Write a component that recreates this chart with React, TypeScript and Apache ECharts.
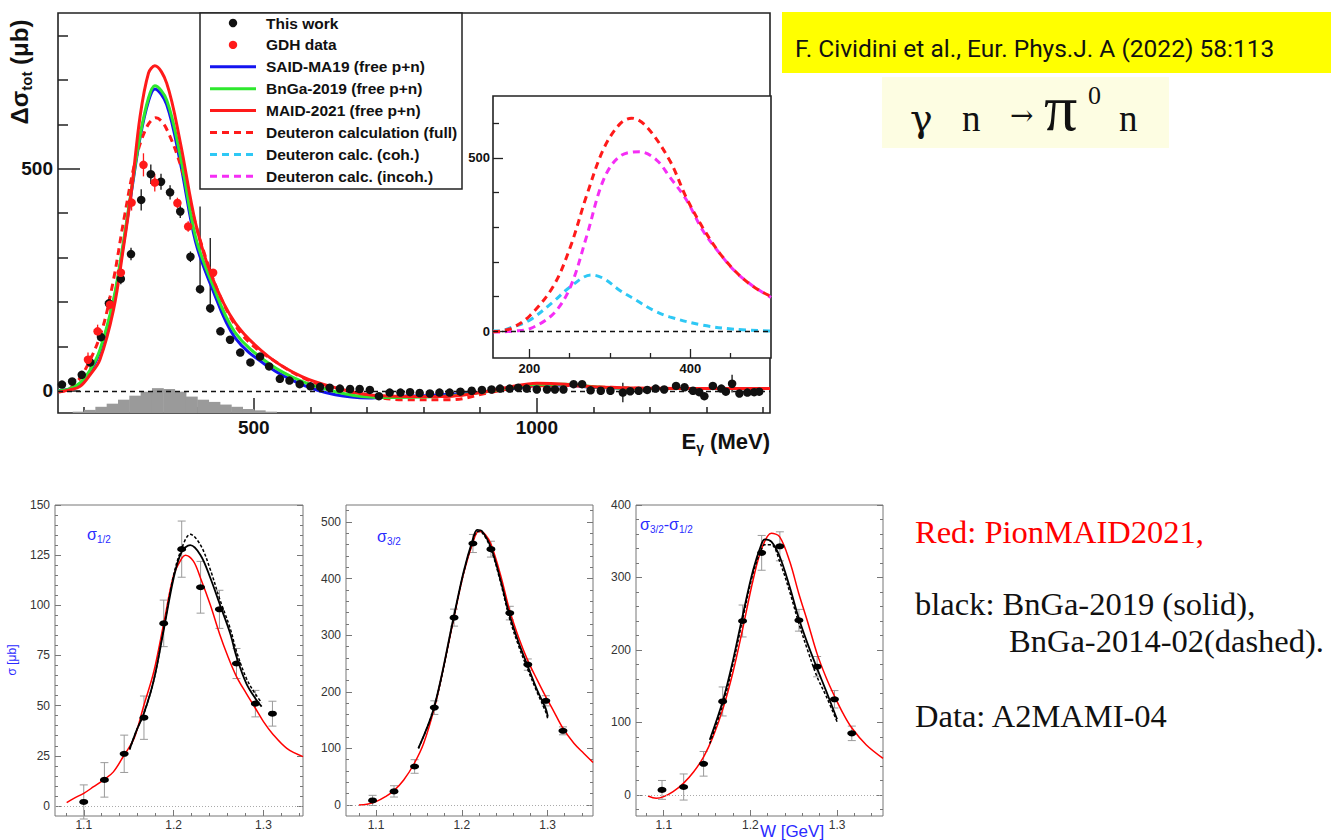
import { useEffect, useRef } from 'react';
import * as echarts from 'echarts';

/* ---------------- upper panel: Δσ_tot(γn → π0 n) ---------------- */
// free-nucleon model curves (p+n)
const freeE = [155, 175, 193, 210, 228, 252, 269, 284, 299, 314, 325, 346, 370, 397, 426, 467, 526, 585, 644, 703, 750, 800, 850, 900, 950, 1000, 1050, 1100, 1150, 1200, 1300, 1412];
const said19 = [0, 4, 16, 42, 88, 200, 325, 450, 570, 653, 680, 645, 515, 336, 232, 119, 54, 14, -9, -16, -13, -11, -8, -3, 4, 12, 13, 8, 6, 5, 5, 5];
const bnga19 = [0, 5, 18, 45, 92, 205, 330, 455, 575, 660, 687, 655, 530, 347, 243, 131, 62, 21, -2, -14, -15, -14, -11, -4, 6, 15, 15, 9, 6, 5, 5, 5];
const maid21 = [-3, 2, 10, 35, 70, 182, 317, 453, 618, 716, 732, 693, 560, 378, 257, 153, 77, 32, 7, -9, -12, -13, -12, -4, 8, 17, 15, 9, 7, 6, 5, 5];

// deuteron calculation, full
const deutE = [155, 165, 180, 201, 230, 251, 271, 292, 312, 327, 345, 374, 395, 415, 436, 456, 477, 500, 526, 585, 644, 703, 762, 850, 912, 960, 1000, 1050, 1100, 1150, 1200, 1300, 1412];
const deutFull = [-2, 0, 10, 45, 130, 243, 390, 525, 597, 615, 592, 494, 385, 300, 226, 172, 130, 100, 76, 30, 3, -12, -20, -20, -5, 6, 11, 12, 9, 7, 5, 5, 5];
// coherent / incoherent parts (inset)
const cohE = [155, 162, 180, 201, 230, 251, 277, 292, 312, 332, 353, 374, 415, 456, 500];
const deutCoh = [0, 0, 12, 32, 85, 128, 162, 152, 118, 90, 61, 41, 17, 5, 0];
const incohE = [155, 162, 180, 201, 230, 251, 271, 292, 312, 337, 358, 374, 395, 415, 436, 456, 477, 500];
const deutIncoh = [-2, -3, 0, 7, 50, 127, 272, 436, 504, 518, 494, 446, 379, 292, 225, 171, 131, 97];

// this work
const workE = [161, 179, 196, 211, 230, 244, 265, 283, 301, 318, 336, 352, 370, 388, 405, 423, 441, 458, 476, 494, 511, 527, 546, 563, 581, 600, 617, 634, 652, 670, 687, 705, 721, 740, 759, 776, 793, 811, 828, 846, 865, 885, 903, 920, 935, 952, 967, 982, 1000, 1018, 1032, 1047, 1065, 1080, 1095, 1113, 1130, 1152, 1165, 1180, 1195, 1210, 1225, 1246, 1261, 1276, 1287, 1296, 1311, 1326, 1334, 1345, 1358, 1372, 1384, 1393];
const workV = [14, 21, 36, 64, 121, 197, 252, 308, 430, 488, 471, 447, 404, 302, 229, 186, 134, 115, 86, 64, 77, 55, 27, 23, 15, 10, 9, 7, 5, 4, 4, 2, -12, -4, -4, -3, -5, -6, -4, -4, -2, 0, 2, 3, 5, 5, 7, 5, 3, 3, 3, 3, 15, 15, 1, 0, 0, -4, -1, 0, 2, 5, 3, 11, 8, 0, -3, -12, 11, 5, -2, 16, -6, -4, -3, -2];
const workErrDn = [6, 6, 7, 15, 10, 14, 12, 14, 24, 22, 18, 16, 15, 12, 10, 10, 5, 5, 4, 4, 4, 4, 3, 3, 3, 3, 3, 3, 3, 3, 3, 3, 3, 3, 3, 3, 3, 3, 3, 3, 3, 3, 3, 3, 3, 3, 3, 3, 3, 3, 3, 3, 3, 3, 3, 3, 3, 22, 3, 3, 3, 3, 3, 3, 3, 3, 3, 3, 3, 3, 3, 20, 3, 3, 3, 3];
const workErrUp = [6, 6, 7, 15, 10, 14, 12, 14, 24, 22, 18, 16, 15, 12, 186, 158, 5, 5, 4, 4, 4, 4, 3, 3, 3, 3, 3, 3, 3, 3, 3, 3, 3, 3, 3, 3, 3, 3, 3, 3, 3, 3, 3, 3, 3, 3, 3, 3, 3, 3, 3, 3, 3, 3, 3, 3, 3, 22, 3, 3, 3, 3, 3, 3, 3, 3, 3, 3, 3, 3, 3, 20, 3, 3, 3, 3];

// GDH data
const gdhE = [207, 224, 246, 265, 284, 305, 325, 365, 384, 428];
const gdhV = [70, 134, 194, 266, 424, 509, 469, 423, 370, 266];
const gdhErr = [16, 15, 15, 12, 18, 26, 20, 12, 12, 8];

// histogram (drawn from the bottom of the frame)
const histStart = [180, 200, 220, 240, 260, 280, 300, 320, 340, 360, 380, 400, 420, 440, 460, 480, 500, 520];
const histWidth = 20;
const histTop = [-47, -43, -36, -29, -20, -11, -2, 6, 4, -2, -13, -20, -25, -31, -36, -41, -44, -47];

// tick labels / tick marks
const mainXLabels = [500, 1000];
const mainXMinor = [200, 300, 400, 600, 700, 800, 900, 1100, 1200, 1300, 1400];
const mainYLabels = [0, 500];
const mainYMinor = [100, 200, 300, 400, 600, 700, 800];
const insetXLabels = [200, 400];
const insetXMinor = [250, 300, 350, 450];
const insetYLabels = [0, 500];
const insetYMinor = [100, 200, 300, 400, 600];

const legendRows = [
  { label: 'This work', kind: 'dot', color: '#111111' },
  { label: 'GDH data', kind: 'dot', color: '#ff1a1a' },
  { label: 'SAID-MA19 (free p+n)', kind: 'line', color: '#1414f0' },
  { label: 'BnGa-2019 (free p+n)', kind: 'line', color: '#2ee82e' },
  { label: 'MAID-2021 (free p+n)', kind: 'line', color: '#ff1a1a' },
  { label: 'Deuteron calculation (full)', kind: 'dash', color: '#ff1a1a' },
  { label: 'Deuteron calc. (coh.)', kind: 'dash', color: '#2ec8f5' },
  { label: 'Deuteron calc. (incoh.)', kind: 'dash', color: '#f52ef5' },
];

/* ---------------- lower panels: helicity cross sections vs W ---------------- */
// σ1/2
const halfW = [1.1, 1.123, 1.145, 1.167, 1.189, 1.209, 1.23, 1.251, 1.27, 1.291, 1.31];
const halfV = [2, 13, 26, 44, 91, 128, 109, 98, 71, 51, 46];
const halfErr = [8.5, 8.6, 9.3, 10.8, 11.6, 14, 12.9, 9.5, 7.5, 6.6, 6.2];
const halfRedW = [1.081, 1.089, 1.1, 1.111, 1.123, 1.133, 1.145, 1.156, 1.167, 1.178, 1.189, 1.2, 1.209, 1.213, 1.222, 1.23, 1.241, 1.251, 1.26, 1.27, 1.281, 1.291, 1.3, 1.31, 1.326, 1.344];
const halfRed = [1.7, 3.8, 6.3, 9.6, 13.3, 17, 25.4, 33.7, 50.3, 67, 91, 115, 123.4, 125, 122, 113.5, 100, 86, 75, 64.5, 56, 48.7, 42, 36, 28.7, 24.6];
const halfBnW = [1.151, 1.159, 1.167, 1.178, 1.189, 1.2, 1.209, 1.2185, 1.23, 1.241, 1.251, 1.263, 1.27, 1.281, 1.291, 1.298];
const halfBn19 = [28.2, 37.9, 46.2, 62.8, 87.7, 113.5, 126.7, 130, 125, 113.5, 101, 86, 74.4, 61, 53.6, 49.5];
const halfBn14 = [28.2, 37.9, 46.2, 62.8, 88.5, 115, 128.4, 135.4, 130, 117.6, 103.5, 88.5, 77, 63.6, 55.8, 51.5];

// σ3/2
const t32W = [1.096, 1.121, 1.145, 1.168, 1.191, 1.213, 1.234, 1.256, 1.277, 1.298, 1.318];
const t32V = [8, 24, 68, 172, 331, 462, 452, 339, 248, 184, 131];
const t32Err = [9, 10, 12, 12, 15, 16, 14, 12, 10, 9, 7];
const t32RedW = [1.08, 1.0895, 1.1, 1.111, 1.1206, 1.1323, 1.1447, 1.1556, 1.168, 1.179, 1.1907, 1.2023, 1.2128, 1.2198, 1.2276, 1.2342, 1.2451, 1.2556, 1.2665, 1.277, 1.2879, 1.2977, 1.3074, 1.3179, 1.3307, 1.3424, 1.353];
const t32Red = [0, 1.2, 5.9, 14.7, 24.8, 44, 73.7, 109, 171, 245, 330, 410, 463, 483.5, 477.6, 460, 407, 345, 295, 255, 221, 192, 165, 135.6, 109, 91, 75];
const t32BnW = [1.1494, 1.168, 1.1907, 1.2023, 1.2128, 1.2179, 1.2237, 1.2342, 1.2451, 1.2556, 1.2665, 1.277, 1.2879, 1.2977, 1.3004];
const t32Bn19 = [100, 174, 333, 413, 469, 486, 483.5, 454, 398, 336, 286, 245, 203, 171, 156];
const t32Bn14 = [100, 173, 331, 411, 466, 483, 481, 451, 394, 330, 280, 239, 199, 165, 151.5];

// σ3/2 − σ1/2
const diffW = [1.098, 1.123, 1.146, 1.168, 1.191, 1.213, 1.234, 1.256, 1.277, 1.297, 1.317];
const diffV = [7, 11, 43, 129, 240, 334, 343, 241, 177, 132, 85];
const diffErr = [13, 18, 17, 20, 22, 24, 20, 15, 14, 12, 10];
const diffRedW = [1.0819, 1.0915, 1.1, 1.1108, 1.1227, 1.1346, 1.1462, 1.1569, 1.1685, 1.18, 1.1908, 1.2031, 1.2131, 1.2242, 1.2338, 1.2454, 1.2558, 1.2665, 1.2769, 1.2877, 1.2973, 1.3069, 1.3173, 1.3338, 1.353];
const diffRed = [-1.4, -4.6, -2.3, 4.6, 16, 32, 53, 80.5, 119.5, 170, 227.6, 296.6, 340, 361, 356, 322, 278, 237, 195, 161, 135.6, 112.6, 92, 69, 50.6];
const diffBnW = [1.1531, 1.1685, 1.18, 1.1908, 1.2031, 1.2131, 1.2165, 1.2242, 1.2338, 1.2454, 1.2558, 1.2665, 1.2769, 1.2877, 1.3];
const diffBn19 = [76, 131, 186, 246, 310, 347, 352.6, 349.4, 329, 287, 243.7, 207, 174.7, 142.5, 104.4];
const diffBn14 = [71, 126, 181, 241, 306, 340, 345, 345, 322, 280, 237, 198, 163, 135.6, 101];

const wLabels = [1.1, 1.2, 1.3];
const wMinor = [1.08, 1.12, 1.14, 1.16, 1.18, 1.22, 1.24, 1.26, 1.28, 1.32, 1.34];
const halfYLabels = [0, 25, 50, 75, 100, 125, 150];
const halfYMinor = [5, 10, 15, 20, 30, 35, 40, 45, 55, 60, 65, 70, 80, 85, 90, 95, 105, 110, 115, 120, 130, 135, 140, 145];
const t32YLabels = [0, 100, 200, 300, 400, 500];
const t32YMinor = [20, 40, 60, 80, 120, 140, 160, 180, 220, 240, 260, 280, 320, 340, 360, 380, 420, 440, 460, 480, 520];
const diffYLabels = [0, 100, 200, 300, 400];
const diffYMinor = [-20, 20, 40, 60, 80, 120, 140, 160, 180, 220, 240, 260, 280, 320, 340, 360, 380];

/* ---------------- colours & fonts ---------------- */
const BLUE = '#1414f0';
const GREEN = '#2ee82e';
const RED = '#ff1a1a';
const CYAN = '#2ec8f5';
const MAGENTA = '#f52ef5';
const LABEL_BLUE = '#2a2aff';
const SANS = 'Liberation Sans';
const SERIF = 'Liberation Serif';

const zip = (xs: number[], ys: number[]) => xs.map((x, i) => [x, ys[i]]);

function curve(xs: number[], ys: number[], xi: number, yi: number, color: string, width: number, dash?: any, extra?: any) {
  return {
    type: 'line', xAxisIndex: xi, yAxisIndex: yi, data: zip(xs, ys),
    smooth: 0.35, showSymbol: false, symbol: 'none', clip: true, silent: true,
    lineStyle: { color, width, type: dash || 'solid' }, z: 3, ...(extra || {}),
  };
}

function errorBars(xs: number[], ys: number[], dn: number[], up: number[], xi: number, yi: number, color: string, width: number, cap: number) {
  return {
    type: 'custom', xAxisIndex: xi, yAxisIndex: yi, silent: true, z: 3,
    data: xs.map((x, i) => [x, ys[i], ys[i] - dn[i], ys[i] + up[i]]),
    encode: { x: 0, y: [2, 3] },
    renderItem: (_p: any, api: any) => {
      const x = api.value(0);
      const a = api.coord([x, api.value(2)]);
      const b = api.coord([x, api.value(3)]);
      const style = { stroke: color, lineWidth: width };
      const children: any[] = [{ type: 'line', shape: { x1: a[0], y1: a[1], x2: b[0], y2: b[1] }, style }];
      if (cap > 0) {
        children.push({ type: 'line', shape: { x1: a[0] - cap, y1: a[1], x2: a[0] + cap, y2: a[1] }, style });
        children.push({ type: 'line', shape: { x1: b[0] - cap, y1: b[1], x2: b[0] + cap, y2: b[1] }, style });
      }
      return { type: 'group', children };
    },
  };
}

function dots(xs: number[], ys: number[], xi: number, yi: number, color: string, size: any) {
  return {
    type: 'scatter', xAxisIndex: xi, yAxisIndex: yi, data: zip(xs, ys), silent: true,
    symbol: 'circle', symbolSize: size, itemStyle: { color, opacity: 1 }, z: 5,
  };
}

function axis(o: any) {
  return {
    type: 'value', gridIndex: o.grid, min: o.min, max: o.max, position: o.pos,
    axisLine: { show: false, onZero: false }, splitLine: { show: false }, minorTick: { show: false },
    axisTick: { show: true, inside: true, length: o.len, customValues: o.ticks, lineStyle: { color: o.color, width: o.tw } },
    axisLabel: o.labels
      ? { show: true, customValues: o.labels, margin: o.margin, formatter: (v: number) => String(v), ...o.font }
      : { show: false },
  };
}

const mainFont = { color: '#111', fontSize: 19, fontWeight: 'bold', fontFamily: SANS };
const insetFont = { color: '#111', fontSize: 13, fontWeight: 'bold', fontFamily: SANS };
const lowFont = { color: '#333', fontSize: 12, fontFamily: SANS };

function buildOption() {
  const mainG = { left: 58, top: 13, width: 712, height: 400 };
  const insetG = { left: 493, top: 96, width: 278, height: 262 };
  const p1 = { left: 55, top: 505, width: 248, height: 311 };
  const p2 = { left: 346, top: 505, width: 247, height: 311 };
  const p3 = { left: 636, top: 505, width: 247, height: 311 };
  const frame = (g: any, color: string, w: number, bg: string) => ({ ...g, show: true, borderColor: color, borderWidth: w, backgroundColor: bg });
  const bare = (g: any) => ({ ...g, show: false });

  const grid = [
    frame(mainG, '#222', 1.6, 'transparent'), bare(mainG),
    frame(insetG, '#222', 1.6, '#fff'), bare(insetG),
    frame(p1, '#777', 1, '#fff'), bare(p1),
    frame(p2, '#777', 1, '#fff'), bare(p2),
    frame(p3, '#777', 1, '#fff'), bare(p3),
  ];

  const MX = [154, 1412], MY = [-50, 851];
  const IX = [155, 500], IY = [-78, 679];
  const X1 = [1.068, 1.344], Y1 = [-5, 150];
  const X2 = [1.065, 1.353], Y2 = [-19.5, 530];
  const X3 = [1.068, 1.353], Y3 = [-29, 400];
  const low = { color: '#777', tw: 1 };

  const xAxis = [
    axis({ grid: 0, min: MX[0], max: MX[1], ticks: mainXLabels, labels: mainXLabels, len: 15, color: '#222', tw: 1.5, margin: 5, font: mainFont }),
    axis({ grid: 1, min: MX[0], max: MX[1], ticks: mainXMinor, len: 6, color: '#222', tw: 1.5 }),
    axis({ grid: 2, min: IX[0], max: IX[1], ticks: insetXLabels, labels: insetXLabels, len: 9, color: '#222', tw: 1.3, margin: 4, font: insetFont }),
    axis({ grid: 3, min: IX[0], max: IX[1], ticks: insetXMinor, len: 5, color: '#222', tw: 1.3 }),
    axis({ grid: 4, min: X1[0], max: X1[1], ticks: wLabels, labels: wLabels, len: 6, ...low, margin: 3, font: lowFont }),
    axis({ grid: 5, min: X1[0], max: X1[1], ticks: wMinor, len: 3, ...low }),
    axis({ grid: 6, min: X2[0], max: X2[1], ticks: wLabels, labels: wLabels, len: 6, ...low, margin: 3, font: lowFont }),
    axis({ grid: 7, min: X2[0], max: X2[1], ticks: wMinor, len: 3, ...low }),
    axis({ grid: 8, min: X3[0], max: X3[1], ticks: wLabels, labels: wLabels, len: 6, ...low, margin: 3, font: lowFont }),
    axis({ grid: 9, min: X3[0], max: X3[1], ticks: wMinor, len: 3, ...low }),
  ];

  const yAxis = [
    axis({ grid: 0, min: MY[0], max: MY[1], ticks: mainYLabels, labels: mainYLabels, len: 22, color: '#222', tw: 1.5, margin: 5, font: mainFont }),
    axis({ grid: 1, min: MY[0], max: MY[1], ticks: mainYMinor, len: 10, color: '#222', tw: 1.5 }),
    axis({ grid: 2, min: IY[0], max: IY[1], ticks: insetYLabels, labels: insetYLabels, len: 10, color: '#222', tw: 1.3, margin: 3, font: insetFont }),
    axis({ grid: 3, min: IY[0], max: IY[1], ticks: insetYMinor, len: 6, color: '#222', tw: 1.3 }),
    // σ1/2
    axis({ grid: 4, min: Y1[0], max: Y1[1], ticks: halfYLabels, labels: halfYLabels, len: 6, ...low, margin: 5, font: lowFont }),
    axis({ grid: 4, min: Y1[0], max: Y1[1], ticks: halfYLabels, len: 6, ...low, pos: 'right' }),
    axis({ grid: 5, min: Y1[0], max: Y1[1], ticks: halfYMinor, len: 3, ...low }),
    axis({ grid: 5, min: Y1[0], max: Y1[1], ticks: halfYMinor, len: 3, ...low, pos: 'right' }),
    // σ3/2
    axis({ grid: 6, min: Y2[0], max: Y2[1], ticks: t32YLabels, labels: t32YLabels, len: 6, ...low, margin: 5, font: lowFont }),
    axis({ grid: 6, min: Y2[0], max: Y2[1], ticks: t32YLabels, len: 6, ...low, pos: 'right' }),
    axis({ grid: 7, min: Y2[0], max: Y2[1], ticks: t32YMinor, len: 3, ...low }),
    axis({ grid: 7, min: Y2[0], max: Y2[1], ticks: t32YMinor, len: 3, ...low, pos: 'right' }),
    // σ3/2 − σ1/2
    axis({ grid: 8, min: Y3[0], max: Y3[1], ticks: diffYLabels, labels: diffYLabels, len: 6, ...low, margin: 5, font: lowFont }),
    axis({ grid: 8, min: Y3[0], max: Y3[1], ticks: diffYLabels, len: 6, ...low, pos: 'right' }),
    axis({ grid: 9, min: Y3[0], max: Y3[1], ticks: diffYMinor, len: 3, ...low }),
    axis({ grid: 9, min: Y3[0], max: Y3[1], ticks: diffYMinor, len: 3, ...low, pos: 'right' }),
  ];

  const zeroDashed = {
    markLine: { silent: true, symbol: ['none', 'none'], label: { show: false }, lineStyle: { color: '#111', type: [5, 4], width: 1.3 }, data: [{ yAxis: 0 }] },
  };
  const zeroDotted = {
    markLine: { silent: true, symbol: ['none', 'none'], label: { show: false }, lineStyle: { color: '#aaa', type: [1, 2], width: 1 }, data: [{ yAxis: 0 }] },
  };

  const DASH = [7, 5];
  const series: any[] = [
    // acceptance histogram
    {
      type: 'custom', xAxisIndex: 0, yAxisIndex: 0, silent: true, z: 1,
      data: histStart.map((x, i) => [x, x + histWidth, histTop[i]]),
      encode: { x: [0, 1], y: 2 },
      renderItem: (_p: any, api: any) => {
        const a = api.coord([api.value(0), api.value(2)]);
        const b = api.coord([api.value(1), MY[0]]);
        return { type: 'rect', shape: { x: a[0], y: a[1], width: b[0] - a[0] + 0.5, height: b[1] - a[1] }, style: { fill: '#9a9a9a' } };
      },
    },
    curve(freeE, said19, 0, 0, BLUE, 3, undefined, zeroDashed),
    curve(deutE, deutFull, 0, 0, RED, 3, DASH),
    curve(freeE, bnga19, 0, 0, GREEN, 3),
    curve(freeE, maid21, 0, 0, RED, 3),
    errorBars(workE, workV, workErrDn, workErrUp, 0, 0, '#111', 1.3, 0),
    errorBars(gdhE, gdhV, gdhErr, gdhErr, 0, 0, RED, 1.3, 0),
    dots(workE, workV, 0, 0, '#111', 8.5),
    dots(gdhE, gdhV, 0, 0, RED, 8.5),

    // inset
    curve(cohE, deutCoh, 2, 2, CYAN, 3, DASH, zeroDashed),
    curve(incohE, deutIncoh, 2, 2, MAGENTA, 3, DASH),
    curve(deutE, deutFull, 2, 2, RED, 3, DASH),

    // σ1/2
    curve(halfRedW, halfRed, 4, 4, '#ff0000', 1.5, undefined, zeroDotted),
    curve(halfBnW, halfBn14, 4, 4, '#000', 1.5, [3, 2]),
    curve(halfBnW, halfBn19, 4, 4, '#000', 1.8),
    errorBars(halfW, halfV, halfErr, halfErr, 4, 4, '#9a9a9a', 1, 4),
    dots(halfW, halfV, 4, 4, '#000', [9, 6]),

    // σ3/2
    curve(t32RedW, t32Red, 6, 8, '#ff0000', 1.5, undefined, zeroDotted),
    curve(t32BnW, t32Bn14, 6, 8, '#000', 1.5, [3, 2]),
    curve(t32BnW, t32Bn19, 6, 8, '#000', 1.8),
    errorBars(t32W, t32V, t32Err, t32Err, 6, 8, '#9a9a9a', 1, 4),
    dots(t32W, t32V, 6, 8, '#000', [9, 6]),

    // σ3/2 − σ1/2
    curve(diffRedW, diffRed, 8, 12, '#ff0000', 1.5, undefined, zeroDotted),
    curve(diffBnW, diffBn14, 8, 12, '#000', 1.5, [3, 2]),
    curve(diffBnW, diffBn19, 8, 12, '#000', 1.8),
    errorBars(diffW, diffV, diffErr, diffErr, 8, 12, '#9a9a9a', 1, 4),
    dots(diffW, diffV, 8, 12, '#000', [9, 6]),
  ];

  /* ---------- texts, legend box and note boxes ---------- */
  const g: any[] = [];
  const legTop = 23, legStep = 21.9;
  g.push({ type: 'rect', shape: { x: 200, y: 13, width: 262, height: 176 }, style: { fill: '#fff', stroke: '#222', lineWidth: 1.5 }, z: 10 });
  legendRows.forEach((r, i) => {
    const y = legTop + i * legStep;
    if (r.kind === 'dot') {
      g.push({ type: 'circle', shape: { cx: 233, cy: y, r: 4.2 }, style: { fill: r.color }, z: 11 });
    } else {
      g.push({ type: 'line', shape: { x1: 210, y1: y, x2: 256, y2: y }, style: { stroke: r.color, lineWidth: 3, lineDash: r.kind === 'dash' ? DASH : null }, z: 11 });
    }
    g.push({ type: 'text', x: 266, y, z: 11, style: { text: r.label, fill: '#111', fontSize: 15.5, fontWeight: 'bold', fontFamily: SANS, align: 'left', verticalAlign: 'middle' } });
  });

  // axis titles of the upper panel
  g.push({
    type: 'text', x: 19, y: 72, rotation: Math.PI / 2, z: 11,
    style: {
      text: '{a|Δσ}{s|tot}{a| (μb)}', align: 'center', verticalAlign: 'middle',
      rich: {
        a: { fontSize: 24, fontWeight: 'bold', fontFamily: SANS, fill: '#111', lineHeight: 30, verticalAlign: 'middle' },
        s: { fontSize: 15, fontWeight: 'bold', fontFamily: SANS, fill: '#111', lineHeight: 14, verticalAlign: 'bottom' },
      },
    },
  });
  g.push({
    type: 'text', x: 770, y: 441, z: 11,
    style: {
      text: '{a|E}{s|γ}{a| (MeV)}', align: 'right', verticalAlign: 'middle',
      rich: {
        a: { fontSize: 22, fontWeight: 'bold', fontFamily: SANS, fill: '#111', lineHeight: 28, verticalAlign: 'middle' },
        s: { fontSize: 14, fontWeight: 'bold', fontFamily: SANS, fill: '#111', lineHeight: 12, verticalAlign: 'bottom' },
      },
    },
  });

  // lower panel labels
  const sigRich = {
    a: { fontSize: 16, fontFamily: SANS, fill: LABEL_BLUE, lineHeight: 20, verticalAlign: 'middle' },
    s: { fontSize: 10, fontFamily: SANS, fill: LABEL_BLUE, lineHeight: 10, verticalAlign: 'bottom' },
  };
  g.push({ type: 'text', x: 87, y: 534, z: 11, style: { text: '{a|σ}{s|1/2}', align: 'left', verticalAlign: 'middle', rich: sigRich } });
  g.push({ type: 'text', x: 377, y: 536, z: 11, style: { text: '{a|σ}{s|3/2}', align: 'left', verticalAlign: 'middle', rich: sigRich } });
  g.push({ type: 'text', x: 640, y: 524, z: 11, style: { text: '{a|σ}{s|3/2}{a|-σ}{s|1/2}', align: 'left', verticalAlign: 'middle', rich: sigRich } });
  g.push({ type: 'text', x: 12, y: 660, rotation: Math.PI / 2, z: 11, style: { text: 'σ [μb]', fill: LABEL_BLUE, fontSize: 12, fontFamily: SANS, align: 'center', verticalAlign: 'middle' } });
  g.push({ type: 'text', x: 792, y: 831, z: 11, style: { text: 'W [GeV]', fill: LABEL_BLUE, fontSize: 17, fontFamily: SANS, align: 'center', verticalAlign: 'middle' } });

  // reference box
  g.push({ type: 'rect', shape: { x: 782, y: 12, width: 549, height: 61 }, style: { fill: '#ffff00' }, z: 10 });
  g.push({ type: 'text', x: 795, y: 48, z: 11, style: { text: 'F. Cividini et al., Eur. Phys.J. A (2022) 58:113', fill: '#111', fontSize: 24.5, fontFamily: 'Roboto', align: 'left', verticalAlign: 'middle' } });
  // reaction box
  g.push({ type: 'rect', shape: { x: 882, y: 77, width: 287, height: 71 }, style: { fill: '#fdfde2' }, z: 10 });
  const serifTxt = (text: string, x: number, y: number, size: number, family?: string) =>
    ({ type: 'text', x, y, z: 11, style: { text, fill: '#111', fontSize: size, fontFamily: family || SERIF, align: 'left', verticalAlign: 'middle' } });
  g.push(serifTxt('γ', 910, 118, 38, 'DejaVu Serif'));
  g.push(serifTxt('n', 962, 118, 37));
  g.push(serifTxt('→', 1010, 115, 28, 'DejaVu Serif'));
  g.push(serifTxt('π', 1044, 107, 66));
  g.push(serifTxt('0', 1088, 95, 26));
  g.push(serifTxt('n', 1119, 118, 37));

  // model notes
  const note = (text: string, x: number, y: number, color: string) =>
    ({ type: 'text', x, y, z: 11, style: { text, fill: color, fontSize: 32.5, fontFamily: SERIF, align: 'left', verticalAlign: 'middle' } });
  g.push(note('Red: PionMAID2021,', 915, 532, '#ff0000'));
  g.push(note('black: BnGa-2019 (solid),', 915, 604, '#111'));
  g.push(note('BnGa-2014-02(dashed).', 1009, 641, '#111'));
  g.push(note('Data: A2MAMI-04', 915, 716, '#111'));

  return {
    animation: false,
    backgroundColor: '#fff',
    grid, xAxis, yAxis, series, graphic: g,
  };
}

export default function App() {
  const ref = useRef<HTMLDivElement>(null);
  useEffect(() => {
    if (!ref.current) return;
    const chart = echarts.init(ref.current, null, { renderer: 'svg' });
    chart.setOption(buildOption() as any);
    return () => chart.dispose();
  }, []);
  return <div ref={ref} style={{ position: 'absolute', left: 0, top: 0, width: 1331, height: 840, background: '#fff' }} />;
}
